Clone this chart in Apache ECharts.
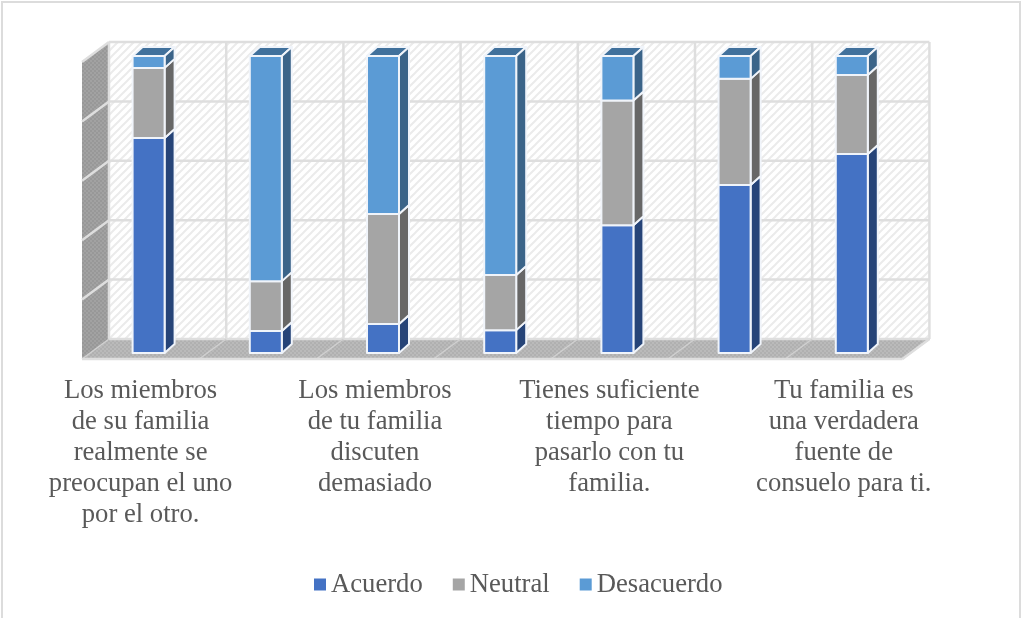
<!DOCTYPE html>
<html>
<head>
<meta charset="utf-8">
<style>
  html, body { margin: 0; padding: 0; background: #fff; }
  #main { width: 1022px; height: 618px; }
</style>
<script src="https://cdn.jsdelivr.net/npm/echarts@6/dist/echarts.min.js"></script>
</head>
<body>
<div id="main"></div>
<script>
// only every other category label is printed in the chart
var categories = [
  'Los miembros\nde su familia\nrealmente se\npreocupan el uno\npor el otro.',
  '',
  'Los miembros\nde tu familia\ndiscuten\ndemasiado',
  '',
  'Tienes suficiente\ntiempo para\npasarlo con tu\nfamilia.',
  '',
  'Tu familia es\nuna verdadera\nfuente de\nconsuelo para ti.'
];
var acuerdo = [72.4, 7.4, 9.8, 7.7, 43, 56.6, 67];
var neutral = [23.6, 16.8, 37, 18.6, 42, 35.7, 26.6];
var desacuerdo = [4, 75.8, 53.2, 73.7, 15, 7.7, 6.4];
var yTicks = [0, 20, 40, 60, 80, 100];

// 3d look: shift of the back wall and of the bars against the front plane
var WALL_DX = 27, WALL_DY = -20;
var BAR_DX = 8, BAR_DY = -6;
var SIDE_DX = 10, SIDE_DY = -9;
var BAR_W = 32;

function hatchPattern() {
  var c = document.createElement('canvas');
  c.width = 8; c.height = 8;
  var g = c.getContext('2d');
  g.fillStyle = '#fff';
  g.fillRect(0, 0, 8, 8);
  g.strokeStyle = '#ebebeb';
  g.lineWidth = 2;
  g.beginPath();
  g.moveTo(-2, 10); g.lineTo(10, -2);
  g.moveTo(-6, 6); g.lineTo(6, -6);
  g.moveTo(2, 14); g.lineTo(14, 2);
  g.stroke();
  return c;
}

function dotPattern(base, dot) {
  var c = document.createElement('canvas');
  c.width = 4; c.height = 4;
  var g = c.getContext('2d');
  g.fillStyle = base;
  g.fillRect(0, 0, 4, 4);
  g.fillStyle = dot;
  g.fillRect(0, 0, 2, 2);
  g.fillRect(2, 2, 2, 2);
  return c;
}

var wallFill = { image: hatchPattern(), repeat: 'repeat' };
var sideWallFill = { image: dotPattern('#a2a2a2', '#989898'), repeat: 'repeat' };
var floorFill = { image: dotPattern('#bababa', '#b0b0b0'), repeat: 'repeat' };
var wallLine = { stroke: '#dedede', lineWidth: 2.5, fill: null };
var floorLine = { stroke: '#d0d0d0', lineWidth: 1.5, fill: null };

function renderWalls(params, api) {
  var band = api.size([1, 0])[0];
  var x0 = api.coord([0, 0])[0] - band / 2;
  var x1 = x0 + band * categories.length;
  var y0 = api.coord([0, 0])[1];
  var y1 = api.coord([0, 100])[1];
  var dx = WALL_DX, dy = WALL_DY;

  function poly(points, style) {
    return { type: 'polygon', shape: { points: points }, style: style, silent: true };
  }
  function line(a, b, c, d, style) {
    return { type: 'line', shape: { x1: a, y1: b, x2: c, y2: d }, style: style || wallLine, silent: true };
  }

  var children = [
    poly([[x0 + dx, y1 + dy], [x1 + dx, y1 + dy], [x1 + dx, y0 + dy], [x0 + dx, y0 + dy]], { fill: wallFill }),
    poly([[x0, y1], [x0 + dx, y1 + dy], [x0 + dx, y0 + dy], [x0, y0]], { fill: sideWallFill }),
    poly([[x0, y0], [x0 + dx, y0 + dy], [x1 + dx, y0 + dy], [x1, y0]], { fill: floorFill })
  ];

  // horizontal grid, runs over the side wall and the back wall
  yTicks.forEach(function (t) {
    var y = api.coord([0, t])[1];
    if (t > 0) {
      children.push(line(x0, y, x0 + dx, y + dy));
    }
    children.push(line(x0 + dx, y + dy, x1 + dx, y + dy));
  });
  // vertical grid, runs over the back wall and the floor
  for (var i = 0; i <= categories.length; i++) {
    var x = x0 + band * i;
    children.push(line(x + dx, y1 + dy, x + dx, y0 + dy));
    children.push(line(x, y0, x + dx, y0 + dy, floorLine));
  }
  children.push(line(x0, y0, x1, y0));
  children.push(line(x1, y0, x1 + dx, y0 + dy));

  return { type: 'group', children: children };
}

function renderBar(front, top, side) {
  return function (params, api) {
    var cat = api.value(0);
    var low = api.coord([cat, api.value(1)]);
    var high = api.coord([cat, api.value(2)]);
    var xl = low[0] + BAR_DX - BAR_W / 2;
    var xr = xl + BAR_W;
    var yb = low[1] + BAR_DY;
    var yt = high[1] + BAR_DY;
    var edge = { stroke: '#f0f4fa', lineWidth: 2, lineJoin: 'round' };
    return {
      type: 'group',
      children: [
        {
          type: 'polygon',
          shape: { points: [[xl, yt], [xl + SIDE_DX, yt + SIDE_DY], [xr + SIDE_DX, yt + SIDE_DY], [xr, yt]] },
          style: Object.assign({ fill: top }, edge)
        },
        {
          type: 'polygon',
          shape: { points: [[xr, yt], [xr + SIDE_DX, yt + SIDE_DY], [xr + SIDE_DX, yb + SIDE_DY], [xr, yb]] },
          style: Object.assign({ fill: side }, edge)
        },
        {
          type: 'rect',
          shape: { x: xl, y: yt, width: BAR_W, height: yb - yt },
          style: Object.assign({ fill: front }, edge)
        }
      ]
    };
  };
}

// stacked ranges [category, from, to]
function stackRows(values, below) {
  return values.map(function (v, i) {
    var from = 0;
    below.forEach(function (s) { from += s[i]; });
    return [i, from, from + v];
  });
}

function barSeries(name, values, below, front, top, side) {
  return {
    name: name,
    type: 'custom',
    coordinateSystem: 'cartesian2d',
    data: stackRows(values, below),
    encode: { x: 0, y: [1, 2] },
    itemStyle: { color: front },
    clip: false,
    renderItem: renderBar(front, top, side),
    z: 3
  };
}

var chart = echarts.init(document.getElementById('main'), null, { renderer: 'canvas' });
chart.setOption({
  animation: false,
  textStyle: { fontFamily: 'Liberation Serif' },
  graphic: [{
    type: 'rect',
    silent: true,
    shape: { x: 2, y: 2, width: 1018, height: 620 },
    style: { fill: null, stroke: '#dcdcdc', lineWidth: 2 }
  }],
  grid: { left: 82, top: 62, width: 820.4, height: 297 },
  xAxis: {
    type: 'category',
    data: categories,
    axisLine: { show: false },
    axisTick: { show: false },
    axisLabel: {
      interval: 0,
      margin: 16,
      color: '#595959',
      fontFamily: 'Liberation Serif',
      fontSize: 26.67,
      lineHeight: 31
    }
  },
  yAxis: {
    type: 'value',
    min: 0,
    max: 100,
    interval: 20,
    axisLine: { show: false },
    axisTick: { show: false },
    axisLabel: { show: false },
    splitLine: { show: false }
  },
  legend: {
    left: 309,
    top: 566,
    itemWidth: 12,
    itemHeight: 12,
    itemGap: 30,
    icon: 'rect',
    data: ['Acuerdo', 'Neutral', 'Desacuerdo'],
    textStyle: { color: '#595959', fontFamily: 'Liberation Serif', fontSize: 26.67 }
  },
  series: [
    {
      type: 'custom',
      coordinateSystem: 'cartesian2d',
      data: [[0, 0]],
      clip: false,
      silent: true,
      renderItem: renderWalls,
      z: 1
    },
    barSeries('Acuerdo', acuerdo, [], '#4472c4', '#2f5597', '#264478'),
    barSeries('Neutral', neutral, [acuerdo], '#a5a5a5', '#7c7c7c', '#676767'),
    barSeries('Desacuerdo', desacuerdo, [acuerdo, neutral], '#5b9bd5', '#41719c', '#3b6489')
  ]
});
</script>
</body>
</html>
